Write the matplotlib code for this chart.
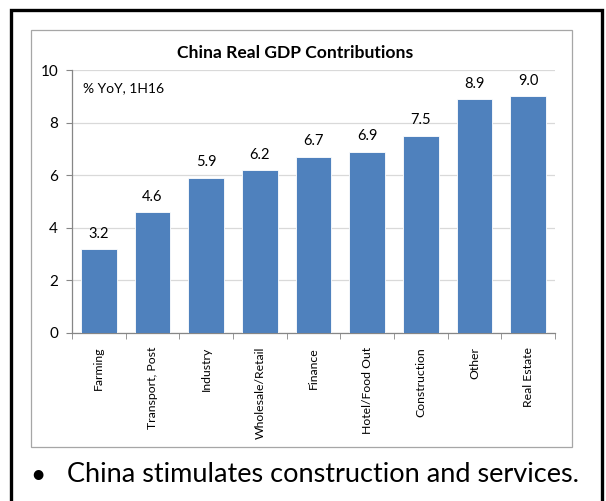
import numpy as np
import matplotlib.pyplot as plt
from matplotlib.patches import Rectangle

categories = ["Farming", "Transport, Post", "Industry", "Wholesale/Retail", "Finance",
              "Hotel/Food Out", "Construction", "Other", "Real Estate"]
values = [3.2, 4.6, 5.9, 6.2, 6.7, 6.9, 7.5, 8.9, 9.0]
yticks = [0, 2, 4, 6, 8, 10]

plt.rcParams['font.family'] = ['Lato', 'DejaVu Sans']

W, H = 606, 501
fig = plt.figure(figsize=(W / 100, H / 100), dpi=100)

# outer black frame and gray chart box (pixel coords, top-left origin)
def px_rect(x0, y0, x1, y1, **kw):
    return Rectangle((x0 / W, 1 - y1 / H), (x1 - x0) / W, (y1 - y0) / H,
                     transform=fig.transFigure, fill=False, **kw)

fig.patches.append(px_rect(11, 10, 602, 520, edgecolor='black', linewidth=2.4))
fig.patches.append(px_rect(31, 30, 572, 447, edgecolor='#a6a6a6', linewidth=0.9))

# plot area
x0, x1, ytop, ybot = 72, 555, 70, 333
ax = fig.add_axes([x0 / W, 1 - ybot / H, (x1 - x0) / W, (ybot - ytop) / H])

x = np.arange(len(categories))
bars = ax.bar(x, values, width=0.66, color='#4f81bd', edgecolor='white', linewidth=0.6, zorder=3)
for xi, v in zip(x, values):
    ax.annotate(f"{v:.1f}", (xi, v), xytext=(0, 6), textcoords='offset points',
                ha='center', va='bottom', fontsize=10.5, color='black')

ax.set_xlim(-0.5, len(categories) - 0.5)
ax.set_ylim(0, 10)
ax.set_yticks(yticks)
ax.tick_params(axis='y', labelsize=11, length=4, color='#868686', pad=6)
ax.yaxis.grid(True, color='#d9d9d9', linewidth=0.9, zorder=0)

ax.set_xticks(np.arange(len(categories) + 1) - 0.5, minor=True)
ax.set_xticks(x)
ax.set_xticklabels(categories, rotation=90, fontsize=8.8, va='top', ha='center')
ax.tick_params(axis='x', which='major', length=0, pad=10)
ax.tick_params(axis='x', which='minor', length=4, color='#868686')

for s in ['top', 'right']:
    ax.spines[s].set_visible(False)
for s in ['left', 'bottom']:
    ax.spines[s].set_color('#868686')
    ax.spines[s].set_linewidth(0.9)

ax.text(0.022, 0.93, "% YoY, 1H16", transform=ax.transAxes, fontsize=10, va='center')
fig.text(295 / W, 1 - 53 / H, "China Real GDP Contributions",
         ha='center', va='center', fontsize=12.6, fontweight='bold')

fig.text(30 / W, 1 - 475 / H, "\u2022", fontsize=19, va='center', ha='left')
fig.text(67 / W, 1 - 475 / H, "China stimulates construction and services.",
         fontsize=19.5, va='center', ha='left')

fig.savefig("out.png", dpi=100)
